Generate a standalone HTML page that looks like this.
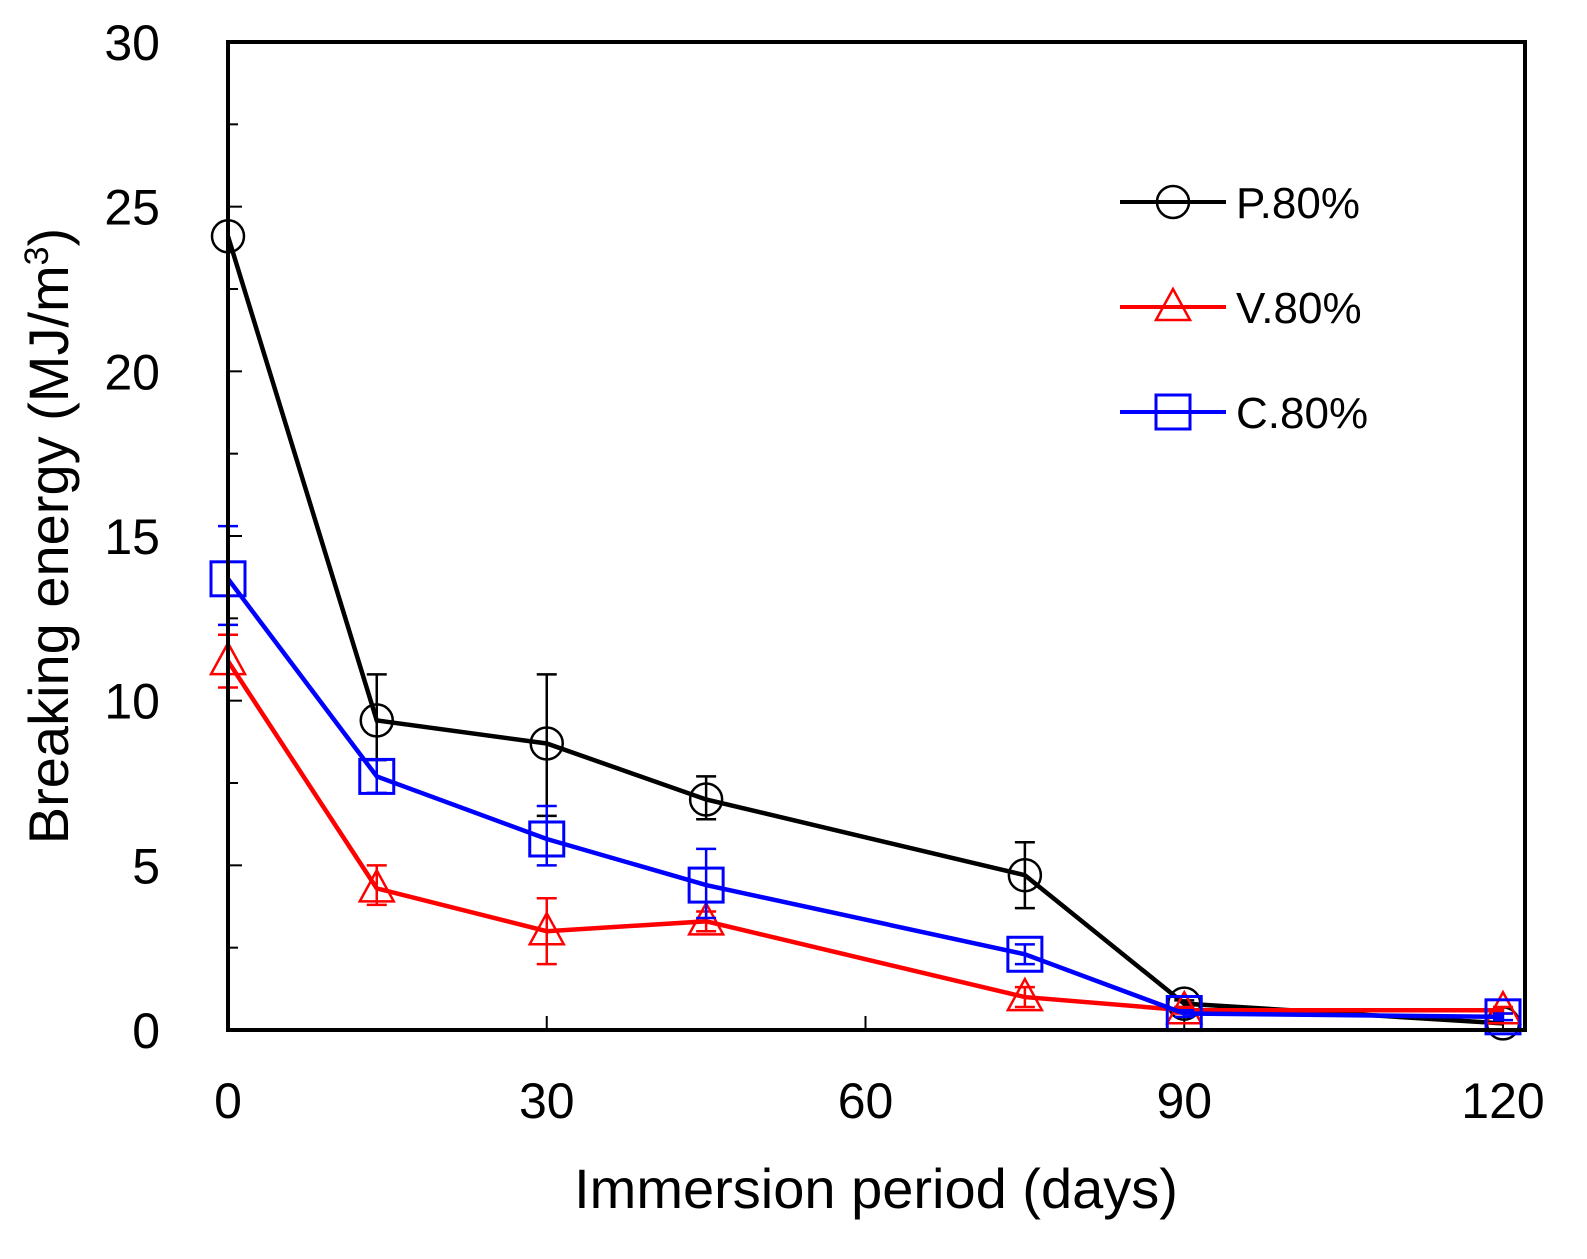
<!DOCTYPE html>
<html><head><meta charset="utf-8"><style>
body{margin:0;background:#fff}
svg text{font-family:"Liberation Sans",sans-serif}
</style></head><body>
<svg id="c" width="1587" height="1254" viewBox="0 0 1587 1254" xmlns="http://www.w3.org/2000/svg"></svg>
<script>
const days=[0,14,30,45,75,90,120];
const pVals=[24.1,9.4,8.7,7.0,4.7,0.8,0.2];
const pHi=[24.1,10.8,10.8,7.7,5.7,0.9,0.2];
const pLo=[24.1,8.2,6.5,6.4,3.7,0.7,0.2];
const vVals=[11.2,4.3,3.0,3.3,1.0,0.6,0.6];
const vHi=[12.0,5.0,4.0,3.6,1.3,0.7,0.7];
const vLo=[10.4,3.8,2.0,3.0,0.7,0.5,0.5];
const cVals=[13.7,7.7,5.8,4.4,2.3,0.5,0.4];
const cHi=[15.3,8.2,6.8,5.5,2.6,0.6,0.5];
const cLo=[12.3,7.2,5.0,3.4,2.0,0.4,0.3];
const xTicks=[0,30,60,90,120];
const yTicks=[0,5,10,15,20,25,30];
const legendLabels=["P.80%","V.80%","C.80%"];

const NS="http://www.w3.org/2000/svg";
const svg=document.getElementById('c');
const X0=228,X1=1525,Y0=1030,Y1=42;
const xs=d=>X0+d*(1503-X0)/120;
const ys=v=>Y0-v*(Y0-Y1)/30;
function el(t,a,p){const e=document.createElementNS(NS,t);for(const k in a)e.setAttribute(k,a[k]);(p||svg).appendChild(e);return e;}

xTicks.forEach(t=>{
  const l=el('line',{x1:xs(t),x2:xs(t),y1:Y0,y2:Y0-14,stroke:'#000','stroke-width':2});
  
  
  const tx=el('text',{x:xs(t),y:1118,'font-size':50,'text-anchor':'middle'});
  tx.textContent=t;
  
  
});
yTicks.forEach(t=>{
  const l=el('line',{x1:X0,x2:X0+14,y1:ys(t),y2:ys(t),stroke:'#000','stroke-width':2});
  
  
  const tx=el('text',{x:160,y:ys(t)+18,'font-size':50,'text-anchor':'end'});
  tx.textContent=t;
  
  
});
for(let t=2.5;t<30;t+=5){
  const l=el('line',{x1:X0,x2:X0+10,y1:ys(t),y2:ys(t),stroke:'#000','stroke-width':2});
  
  
}

function marker(kind,x,y,color,g){
  if(kind==='o')return el('circle',{cx:x,cy:y,r:16,fill:'none',stroke:color,'stroke-width':2.5},g);
  if(kind==='t')return el('polygon',{points:`${x},${y-18} ${x-17},${y+13} ${x+17},${y+13}`,fill:'none',stroke:color,'stroke-width':2.5},g);
  return el('rect',{x:x-17,y:y-17,width:34,height:34,fill:'none',stroke:color,'stroke-width':3},g);
}
function series(name,vals,hi,lo,color,kind){
  const g=el('g',{});
  
  
  vals.forEach((v,i)=>{
    const x=xs(days[i]);
    if(hi[i]!==lo[i]){
      const e=el('path',{d:`M${x},${ys(hi[i])}V${ys(lo[i])}M${x-10},${ys(hi[i])}h20M${x-10},${ys(lo[i])}h20`,stroke:color,'stroke-width':2.5,fill:'none'},g);
      
      
    }
  });
  const pl=el('polyline',{points:vals.map((v,i)=>xs(days[i])+','+ys(v)).join(' '),fill:'none',stroke:color,'stroke-width':4.5},g);
  
  
  vals.forEach((v,i)=>{
    const m=marker(kind,xs(days[i]),ys(v),color,g);
    
    
  });
}
series('p80',pVals,pHi,pLo,'#000','o');
series('v80',vVals,vHi,vLo,'#f00','t');
series('c80',cVals,cHi,cLo,'#00f','s');

const frame=el('rect',{x:X0,y:Y1,width:X1-X0,height:Y0-Y1,fill:'none',stroke:'#000','stroke-width':4});



const lc=['#000','#f00','#00f'],lk=['o','t','s'];
legendLabels.forEach((lab,i)=>{
  const y=202+i*105;
  const g=el('g',{});
  
  
  el('line',{x1:1120,x2:1226,y1:y,y2:y,stroke:lc[i],'stroke-width':4},g);
  marker(lk[i],1173,y,lc[i],g);
  const t=el('text',{x:1236,y:y+16,'font-size':44},g);
  t.textContent=lab;
});

const xt=el('text',{x:876,y:1208,'font-size':56,'text-anchor':'middle'});
xt.textContent='Immersion period (days)';


const yt=el('text',{x:0,y:0,'font-size':56,'text-anchor':'middle',transform:'translate(68,536) rotate(-90)'});
yt.innerHTML='Breaking energy (MJ/m<tspan dy="-20" font-size="34">3</tspan><tspan dy="20">)</tspan>';


</script>
</body></html>
